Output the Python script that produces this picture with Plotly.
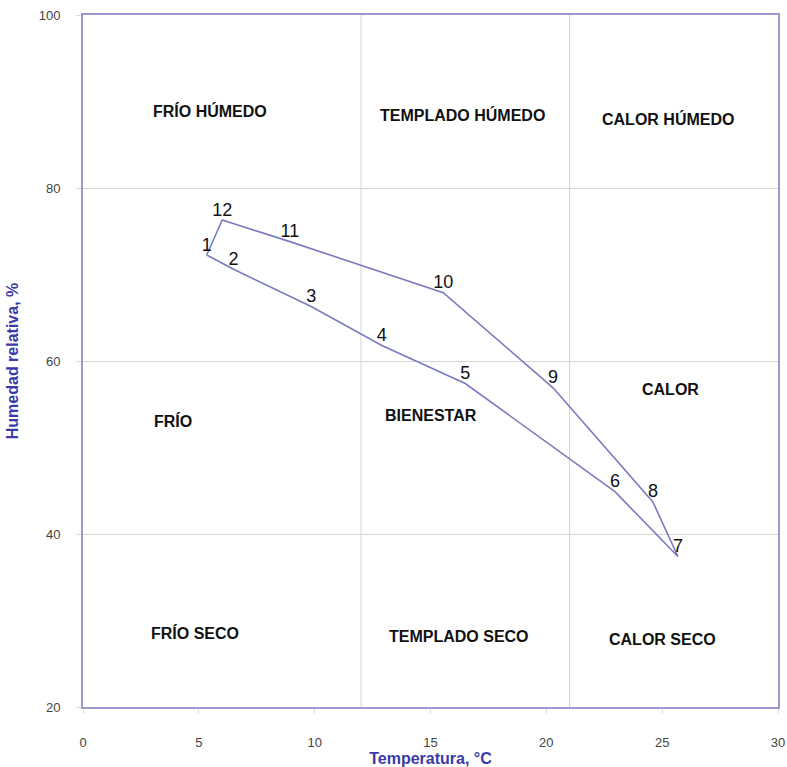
import plotly.graph_objects as go

# Climogram points (month number, temperature °C, relative humidity %)
point_labels = ["1", "2", "3", "4", "5", "6", "7", "8", "9", "10", "11", "12"]
temperature = [5.34, 6.5, 9.85, 12.9, 16.5, 22.96, 25.68, 24.6, 20.29, 15.55, 8.93, 6.01]
humidity = [72.25, 70.6, 66.3, 61.8, 57.4, 44.9, 37.4, 43.7, 56.9, 67.9, 73.8, 76.3]

# Zone boundaries
zone_temp_bounds = [12, 21]

# Zone labels
zone_names = ["FRÍO HÚMEDO", "TEMPLADO HÚMEDO", "CALOR HÚMEDO",
              "FRÍO", "BIENESTAR", "CALOR",
              "FRÍO SECO", "TEMPLADO SECO", "CALOR SECO"]
zone_x = [5.48, 16.36, 25.25, 3.88, 15.02, 25.38, 4.84, 16.23, 25.03]
zone_y = [88.9, 88.4, 87.95, 53.05, 53.75, 56.65, 28.6, 28.1, 27.8]

x_ticks = [0, 5, 10, 15, 20, 25, 30]
y_ticks = [20, 40, 60, 80, 100]

line_col = "#7a7abf"
frame_col = "#9a9acc"
grid_col = "#d4d4d4"

fig = go.Figure()

# closed polygon
fig.add_trace(go.Scatter(
    x=temperature + [temperature[0]],
    y=humidity + [humidity[0]],
    mode="lines",
    line=dict(color=line_col, width=1.6),
    hoverinfo="skip",
    showlegend=False,
))
fig.add_trace(go.Scatter(
    x=temperature, y=humidity, text=point_labels,
    mode="text", textposition="top center",
    textfont=dict(family="Liberation Sans, Arial", size=18, color="#111111"),
    showlegend=False,
))

for xb in zone_temp_bounds:
    fig.add_shape(type="line", xref="x", yref="paper", x0=xb, x1=xb, y0=0, y1=1,
                  line=dict(color=grid_col, width=1), layer="below")

for name, zx, zy in zip(zone_names, zone_x, zone_y):
    fig.add_annotation(x=zx, y=zy, text="<b>" + name + "</b>", showarrow=False,
                       font=dict(family="Liberation Sans, Arial", size=16, color="#111111"))

fig.update_layout(
    width=787, height=767,
    margin=dict(l=83, r=9, t=15, b=60),
    paper_bgcolor="white", plot_bgcolor="white",
    xaxis=dict(
        range=[0, 30], tickvals=x_ticks, showgrid=False, zeroline=False,
        automargin=False, ticklabeloverflow="allow",
        showline=True, mirror=True, linecolor=frame_col, linewidth=2,
        ticks="outside", ticklen=5, tickcolor="#dddddd",
        ticklabelstandoff=17,
        tickfont=dict(family="Liberation Sans, Arial", size=13, color="#444444"),
        title=dict(text="<b>Temperatura, °C</b>", standoff=6,
                   font=dict(family="Liberation Sans, Arial", size=16, color="#3a3aa8")),
    ),
    yaxis=dict(
        range=[20, 100], tickvals=y_ticks, showgrid=True, gridcolor=grid_col, gridwidth=1,
        zeroline=False, automargin=False, ticklabeloverflow="allow",
        showline=True, mirror=True, linecolor=frame_col, linewidth=2,
        ticks="outside", ticklen=5, tickcolor="#dddddd",
        ticklabelstandoff=13,
        tickfont=dict(family="Liberation Sans, Arial", size=13, color="#444444"),
        title=dict(text="<b>Humedad relativa, %</b>", standoff=16,
                   font=dict(family="Liberation Sans, Arial", size=16, color="#3a3aa8")),
    ),
)

fig.write_html("out.html", config={"displayModeBar": False},
               post_script="document.body.style.margin='0';document.body.style.overflow='hidden';")
